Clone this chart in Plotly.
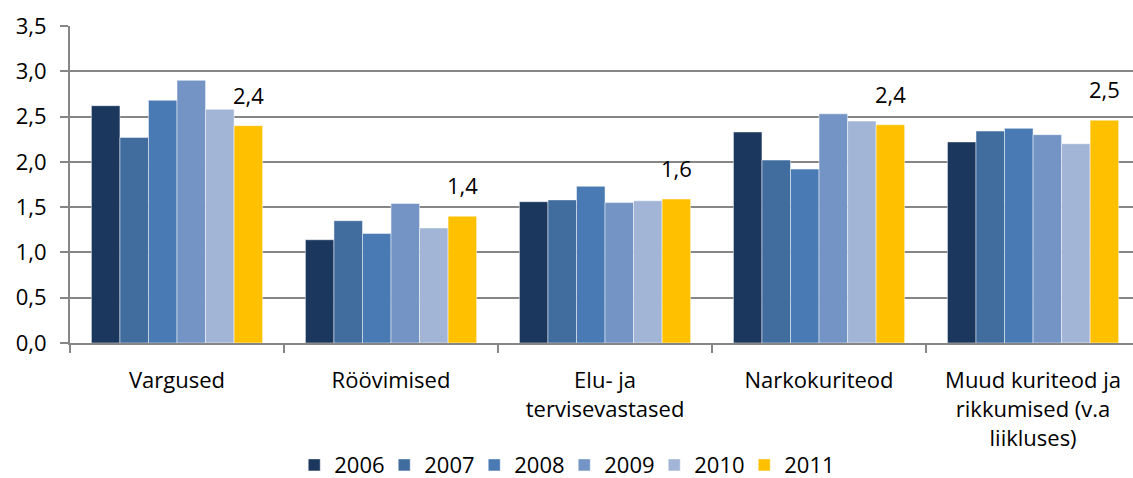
import plotly.graph_objects as go

categories = ["Vargused", "Röövimised", "Elu- ja<br>tervisevastased", "Narkokuriteod",
              "Muud kuriteod ja<br>rikkumised (v.a<br>liikluses)"]
years = ["2006", "2007", "2008", "2009", "2010", "2011"]
values = {
    "2006": [2.62, 1.14, 1.56, 2.33, 2.22],
    "2007": [2.27, 1.35, 1.58, 2.02, 2.34],
    "2008": [2.68, 1.21, 1.73, 1.92, 2.37],
    "2009": [2.90, 1.54, 1.55, 2.53, 2.30],
    "2010": [2.58, 1.27, 1.57, 2.45, 2.20],
    "2011": [2.40, 1.40, 1.59, 2.41, 2.46],
}
colors = ["#1B375E", "#416C9E", "#4A7AB4", "#7394C5", "#A2B5D6", "#FFC000"]
y_ticks = [0, 0.5, 1.0, 1.5, 2.0, 2.5, 3.0, 3.5]

FONT = "Open Sans, sans-serif"
FS = 22
fig = go.Figure()
for yr, col in zip(years, colors):
    fig.add_trace(go.Bar(
        name=yr, x=categories, y=values[yr],
        marker=dict(color=col, line=dict(color="rgba(255,255,255,0.6)", width=0.8)),
    ))

# value labels above the 2011 bars
bargap = 0.2
n = len(years)
offset = -(1 - bargap) / 2 + (1 - bargap) * (n - 0.5) / n
for i, v in enumerate(values["2011"]):
    fig.add_annotation(x=i + offset, y=v, text=f"{v:.1f}".replace(".", ","),
                       showarrow=False, yanchor="bottom", yshift=14,
                       font=dict(size=FS, color="#000000", family=FONT))

fig.update_layout(
    width=1133, height=478,
    margin=dict(l=70, r=0, t=26, b=135, autoexpand=False),
    paper_bgcolor="white", plot_bgcolor="white",
    barmode="group", bargap=bargap, bargroupgap=0,
    separators=", ",
    font=dict(family=FONT, size=FS, color="#000000"),
    showlegend=True,
    legend=dict(orientation="h", xref="container", yref="container",
                x=0.498, xanchor="center", y=0.027, yanchor="middle",
                font=dict(size=FS), itemwidth=30, traceorder="normal",
                entrywidth=45, entrywidthmode="pixels"),
)
fig.update_xaxes(
    range=[-0.5, 4.467], automargin=False,
    showline=True, linecolor="#868686", linewidth=2,
    ticks="outside", tickson="boundaries", ticklen=8, tickcolor="#868686", tickwidth=1.5,
    ticklabelstandoff=17,
    tickfont=dict(size=FS, family=FONT),
)
fig.update_yaxes(
    range=[0, 3.5], tickvals=y_ticks, tickformat=".1f", automargin=False,
    showline=True, linecolor="#868686", linewidth=2,
    showgrid=True, gridcolor="#868686", gridwidth=1.5,
    ticks="outside", ticklen=8, tickcolor="#868686", tickwidth=1.5,
    ticklabelstandoff=9,
    tickfont=dict(size=FS, family=FONT),
    zeroline=False,
)
fig.write_html("out.html", config={"displayModeBar": False},
               post_script="document.body.style.margin='0';document.body.style.overflow='hidden';")
